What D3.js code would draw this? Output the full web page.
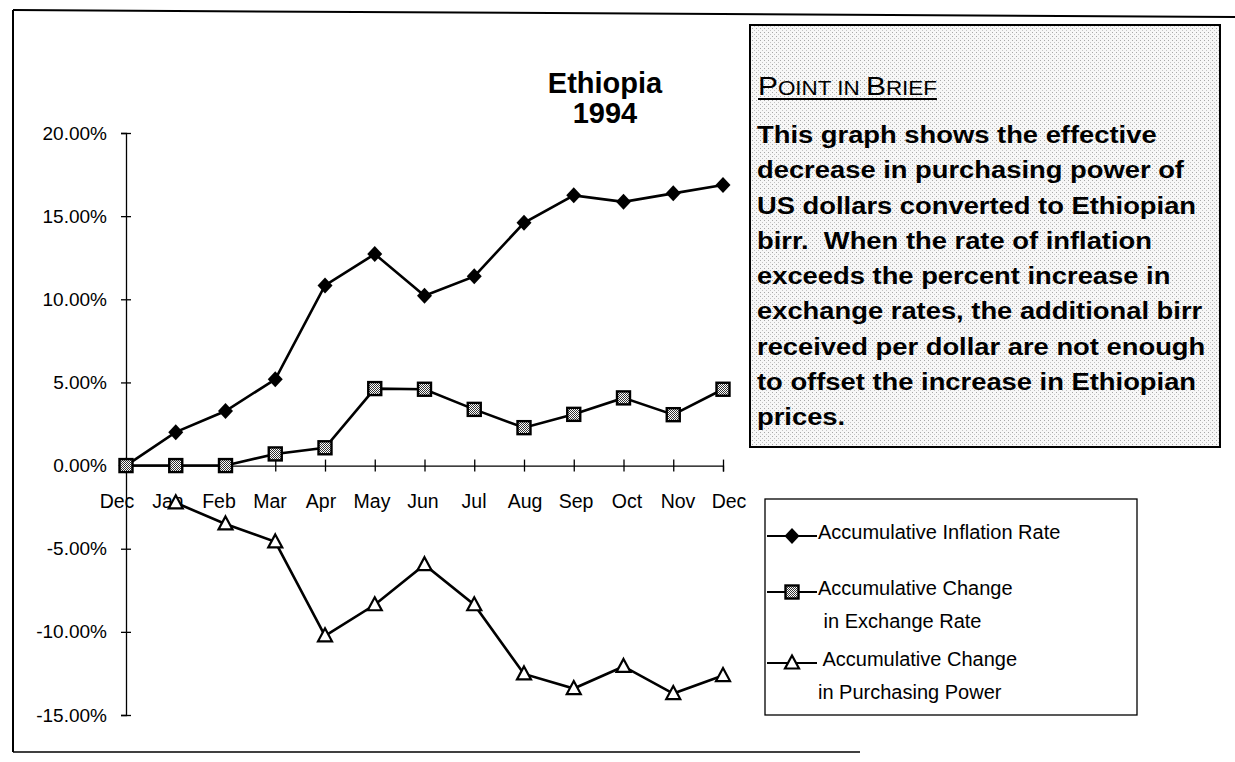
<!DOCTYPE html>
<html>
<head>
<meta charset="utf-8">
<script src="https://cdn.jsdelivr.net/npm/d3@7"></script>
<style>
  body { margin: 0; background: #fff; }
  svg { display: block; font-family: "Liberation Sans", Arial, sans-serif; }
</style>
</head>
<body>
<div id="chart"></div>
<script>
// chart values (percent)
const months = ['Dec', 'Jan', 'Feb', 'Mar', 'Apr', 'May', 'Jun', 'Jul', 'Aug', 'Sep', 'Oct', 'Nov', 'Dec']
const inflation = [0, 2.01, 3.28, 5.19, 10.83, 12.72, 10.21, 11.38, 14.60, 16.25, 15.86, 16.37, 16.87]
const exchange = [0, 0, 0, 0.70, 1.07, 4.63, 4.59, 3.38, 2.28, 3.08, 4.07, 3.06, 4.59]
const purchasing = [null, -2.24, -3.51, -4.59, -10.24, -8.37, -5.96, -8.37, -12.53, -13.41, -12.08, -13.71, -12.63]
const yTicks = [-15, -10, -5, 0, 5, 10, 15, 20]

const titleLines = ['Ethiopia', '1994']
const briefLines = [
  'This graph shows the effective',
  'decrease in purchasing power of',
  'US dollars converted to Ethiopian',
  'birr.  When the rate of inflation',
  'exceeds the percent increase in',
  'exchange rates, the additional birr',
  'received per dollar are not enough',
  'to offset the increase in Ethiopian',
  'prices.'
]
const legendItems = [
  { lines: ['Accumulative Inflation Rate'], marker: 'diamond' },
  { lines: ['Accumulative Change', ' in Exchange Rate'], marker: 'square' },
  { lines: [' Accumulative Change', 'in Purchasing Power'], marker: 'triangle' }
]

const W = 1235, H = 762

const svg = d3.select('#chart').append('svg')
  .attr('width', W)
  .attr('height', H)

// patterns: dotted box background and checkered square marker
const defs = svg.append('defs')
const dots = defs.append('pattern')
  .attr('id', 'dots').attr('width', 4).attr('height', 4)
  .attr('patternUnits', 'userSpaceOnUse')
dots.append('rect').attr('width', 4).attr('height', 4).attr('fill', '#f7f7f7')
dots.append('rect').attr('width', 1).attr('height', 1).attr('fill', '#a8a8a8')
dots.append('rect').attr('x', 2).attr('y', 2).attr('width', 1).attr('height', 1).attr('fill', '#c4c4c4')

const checker = defs.append('pattern')
  .attr('id', 'checker').attr('width', 2).attr('height', 2)
  .attr('patternUnits', 'userSpaceOnUse')
checker.append('rect').attr('width', 2).attr('height', 2).attr('fill', '#fff')
checker.append('rect').attr('width', 1).attr('height', 1).attr('fill', '#333')
checker.append('rect').attr('x', 1).attr('y', 1).attr('width', 1).attr('height', 1).attr('fill', '#333')

// outer frame (scanned page border)
const frame = svg.append('g').attr('stroke', '#000').attr('fill', 'none')
frame.append('line').attr('x1', 13).attr('y1', 10).attr('x2', 1235).attr('y2', 17).attr('stroke-width', 2)
frame.append('line').attr('x1', 13).attr('y1', 10).attr('x2', 13).attr('y2', 752).attr('stroke-width', 2)
frame.append('line').attr('x1', 13).attr('y1', 752).attr('x2', 860).attr('y2', 752).attr('stroke-width', 1.5)

// scales
const x = d3.scaleLinear().domain([0, months.length - 1]).range([126, 723])
const xLabel = d3.scaleLinear().domain([0, months.length - 1]).range([117, 729])
const y = d3.scaleLinear().domain([-15, 20]).range([715, 133])

// y axis
const yAxis = svg.append('g')
  .attr('transform', `translate(${x(0)},0)`)
  .call(d3.axisLeft(y).tickValues(yTicks).tickSize(5).tickFormat(d => d.toFixed(2) + '%'))
yAxis.select('.domain').attr('stroke', '#000').attr('stroke-width', 1.3)
yAxis.selectAll('.tick line').attr('x1', -5).attr('x2', 5).attr('stroke', '#000').attr('stroke-width', 1.3)
yAxis.selectAll('.tick text')
  .attr('x', -19)
  .attr('font-size', 19)
  .attr('fill', '#000')
  .attr('font-family', '"Liberation Sans", Arial, sans-serif')

// x axis at 0%
const xAxis = svg.append('g')
  .attr('transform', `translate(0,${y(0)})`)
  .call(d3.axisBottom(x).tickValues(d3.range(months.length)).tickSize(6).tickFormat(''))
xAxis.select('.domain').attr('stroke', '#000').attr('stroke-width', 1.3)
xAxis.selectAll('.tick line').attr('y1', -6).attr('y2', 6).attr('stroke', '#000').attr('stroke-width', 1.3)

svg.append('g').selectAll('text')
  .data(months)
  .join('text')
  .attr('x', (d, i) => xLabel(i))
  .attr('y', y(0) + 42)
  .attr('text-anchor', 'middle')
  .attr('font-size', 19.5)
  .text(d => d)

// lines
const line = d3.line()
  .defined(d => d != null)
  .x((d, i) => x(i))
  .y(d => y(d))

const seriesList = [
  { values: inflation, marker: 'diamond' },
  { values: exchange, marker: 'square' },
  { values: purchasing, marker: 'triangle' }
]

function drawMarker(g, type, cx, cy) {
  if (type === 'diamond') {
    g.append('path')
      .attr('d', `M${cx},${cy - 8}L${cx + 7.5},${cy}L${cx},${cy + 8}L${cx - 7.5},${cy}Z`)
      .attr('fill', '#000')
  } else if (type === 'square') {
    g.append('rect')
      .attr('x', cx - 6.5).attr('y', cy - 6.5).attr('width', 13).attr('height', 13)
      .attr('fill', 'url(#checker)').attr('stroke', '#000').attr('stroke-width', 2.4)
  } else {
    g.append('path')
      .attr('d', `M${cx},${cy - 7.5}L${cx + 7},${cy + 5.5}L${cx - 7},${cy + 5.5}Z`)
      .attr('fill', '#fff').attr('stroke', '#000').attr('stroke-width', 2.2)
  }
}

seriesList.forEach(s => {
  svg.append('path')
    .datum(s.values)
    .attr('d', line)
    .attr('fill', 'none')
    .attr('stroke', '#000')
    .attr('stroke-width', 2.6)
  const mg = svg.append('g')
  s.values.forEach((v, i) => {
    if (v != null) drawMarker(mg, s.marker, x(i), y(v))
  })
})

// title
svg.append('g').selectAll('text')
  .data(titleLines)
  .join('text')
  .attr('x', 605)
  .attr('y', (d, i) => 93 + i * 30)
  .attr('text-anchor', 'middle')
  .attr('font-size', 29)
  .attr('font-weight', 'bold')
  .text(d => d)

// point in brief box
svg.append('rect')
  .attr('x', 750).attr('y', 25).attr('width', 470).attr('height', 422)
  .attr('fill', 'url(#dots)')
  .attr('stroke', '#000').attr('stroke-width', 2)

const headG = svg.append('g').attr('transform', 'translate(758,95) scale(1.15,1)')
const heading = headG.append('text')
  .attr('x', 0).attr('y', 0)
  .attr('font-size', 19.5)
heading.append('tspan').attr('font-size', 26).text('P')
heading.append('tspan').text('OINT IN ')
heading.append('tspan').attr('font-size', 26).text('B')
heading.append('tspan').text('RIEF')
const hb = heading.node().getBBox()
headG.append('line')
  .attr('x1', 0).attr('x2', hb.x + hb.width)
  .attr('y1', 4).attr('y2', 4)
  .attr('stroke', '#000').attr('stroke-width', 1.8)

svg.append('g')
  .attr('transform', 'translate(757,0) scale(1.14,1)')
  .selectAll('text')
  .data(briefLines)
  .join('text')
  .attr('x', 0)
  .attr('y', (d, i) => 143 + i * 35.3)
  .attr('font-size', 24)
  .attr('font-weight', 'bold')
  .style('white-space', 'pre')
  .text(d => d)

// legend
const legend = svg.append('g')
legend.append('rect')
  .attr('x', 765).attr('y', 499).attr('width', 372).attr('height', 216)
  .attr('fill', '#fff').attr('stroke', '#000').attr('stroke-width', 1.3)

const legendRows = [536, 592, 663]
legendItems.forEach((item, k) => {
  const ly = legendRows[k]
  legend.append('line')
    .attr('x1', 767).attr('x2', 817)
    .attr('y1', ly).attr('y2', ly)
    .attr('stroke', '#000').attr('stroke-width', 2)
  drawMarker(legend, item.marker, 792, ly)
  item.lines.forEach((t, j) => {
    legend.append('text')
      .attr('x', 818)
      .attr('y', ly + 3 + j * 33)
      .attr('font-size', 20)
      .style('white-space', 'pre')
      .text(t)
  })
})
</script>
</body>
</html>
